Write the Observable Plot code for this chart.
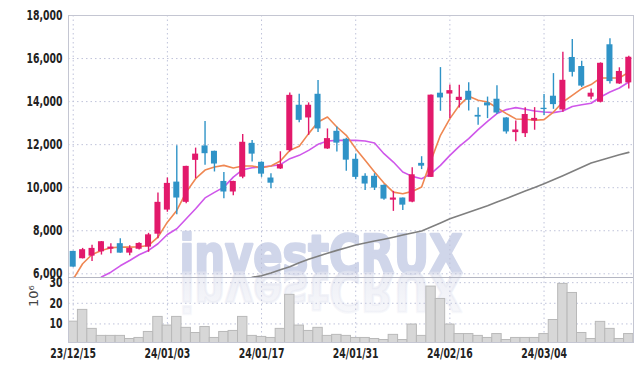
<!DOCTYPE html>
<html><head><meta charset="utf-8">
<script src="https://cdn.jsdelivr.net/npm/d3@7"></script>
<script src="https://cdn.jsdelivr.net/npm/@observablehq/plot@0.6"></script>
<style>
body{margin:0;background:#fff;}
#chart{position:relative;width:642px;height:371px;overflow:hidden;background:#fff;}
#chart svg{position:absolute;left:0;overflow:visible;}
</style></head><body><div id="chart"></div>
<script>
const dates = ["23/12/15","23/12/18","23/12/19","23/12/20","23/12/21","23/12/22","23/12/26","23/12/27","23/12/28","24/01/02",
"24/01/03","24/01/04","24/01/05","24/01/08","24/01/09","24/01/10","24/01/11","24/01/12","24/01/15","24/01/16",
"24/01/17","24/01/18","24/01/19","24/01/22","24/01/23","24/01/24","24/01/25","24/01/26","24/01/29","24/01/30",
"24/01/31","24/02/01","24/02/02","24/02/05","24/02/06","24/02/07","24/02/08","24/02/13","24/02/14","24/02/15",
"24/02/16","24/02/19","24/02/20","24/02/21","24/02/22","24/02/23","24/02/26","24/02/27","24/02/28","24/02/29",
"24/03/04","24/03/05","24/03/06","24/03/07","24/03/08","24/03/11","24/03/12","24/03/13","24/03/14","24/03/15"];
const open  = [7040,6700,6820,7020,7140,7400,6960,7140,7240,7840, 8960,10260,9320,11270,11940,11690,10290,9800,10490,12060,
  11180,10450,10870,11720,13830,13240,14340,11800,12620,12250, 11320,10530,10530,10110,9420,9520,9330,11130,10480,14390,
  14350,14050,14480,13360,13940,14110,13240,12560,12510,13100, 13690,14250,13610,16050,15630,14210,13970,16640,14820,14870];
const high  = [7050,7180,7330,7500,7400,7630,7300,7440,7880,9750, 10450,11950,11000,11840,13080,11700,10710,10300,12470,12190,
  11200,10650,11670,14400,14340,13940,14980,12730,12820,12300, 11560,10650,10650,10120,9830,9520,10930,11440,14310,15580,
  14770,14760,14870,13720,14210,14740,13250,13100,13720,13720, 14330,15300,16290,16880,15880,14590,15800,16920,15570,16110];
const low   = [6300,6690,6570,6870,6930,6950,6840,7100,7000,7630, 8860,8740,9250,10420,11040,10730,9490,9630,10420,11190,
  10480,9950,10850,11660,13020,12430,12570,11780,11660,10760, 10370,9870,9870,9420,8900,8940,9300,10840,10470,13550,
  13210,13700,13560,12900,13210,13400,12490,12140,12330,12670, 13360,13640,13500,15140,14650,14090,13940,14820,14800,14590];
const close = [6310,7120,7180,7490,7240,6960,7180,7410,7810,9320, 10200,9520,10990,11560,11580,11100,9800,10290,12110,11560,
  10630,10210,11070,14290,13130,13830,12730,12280,12070,11280, 10480,10170,9980,9470,9520,9190,10600,11000,14300,14170,
  14510,14200,14060,13280,13800,13470,12590,12680,13400,13220, 13630,13860,14990,15360,14720,14390,15780,14930,15400,16060];
const volume = [11.1,16.8,7.6,4.2,4.2,4.2,2.7,3.2,6.1,13.4, 9.2,13.4,8.1,5.6,8.5,3.2,6.1,6.6,13.4,4.2,
  3.7,3.2,7.6,24.1,9.2,6.6,8.1,4.2,4.7,4.2, 3.2,3.2,2.7,2.2,4.7,2.2,9.7,4.2,28.1,22.1,
  9.7,5.1,5.1,4.2,3.2,5.1,2.2,3.2,3.2,3.2, 5.1,11.9,29.4,25.0,5.6,2.7,11.0,7.6,2.7,5.1];
const ma5 = [5750,6465,6898,7084,7210,7237,7237,7256,7316,7702, 8400,8944,9795,10419,10820,10958,11037,10912,11005,11005,
  10930,11005,11237,11735,11921,12512,13052,13284,12819,12433, 11814,11270,10726,10214,9795,9721,9828,10028,11270,12433,
  13209,13828,14246,14060,13981,13716,13442,13195,13181,13130, 13163,13516,13981,14293,14604,14790,15098,15098,15098,15372];
const ma20 = [null,null,null,5850,6074,6372,6618,6884,7084,7395, 7828,8093,8558,9023,9525,9781,10028,10493,10837,10930,
  10958,11005,11070,11349,11502,11735,12014,12167,12200,12200, 12200,12167,12074,11581,11191,10726,10526,10419,10651,11037,
  11502,11921,12279,12698,13084,13442,13628,13720,13642,13563, 13516,13487,13563,13772,13851,13925,14214,14446,14632,14912];
const ma60 = [null,null,null,null,null,null,null,null,null,null, null,null,null,null,null,null,null,null,null,5840,
  5907,6042,6191,6330,6512,6679,6819,6958,7088,7214, 7340,7428,7521,7605,7698,7800,7898,7991,8172,8363,
  8554,8707,8860,9014,9163,9330,9498,9670,9842,10014, 10186,10368,10558,10754,10949,11149,11279,11400,11526,11642];
const xTicks = ["23/12/15","24/01/03","24/01/17","24/01/31","24/02/16","24/03/04"];
const priceTicks = [6000,8000,10000,12000,14000,16000,18000];
const volumeTicks = [10,20,30];
const volumeUnit = "10⁶";
const watermark = "investCRUX";

const UP = "#e2196b", DOWN = "#2f93c7";
const FONT = '"DejaVu Sans Condensed","DejaVu Sans",sans-serif';
const GRID = "#bfc3da";

const rows = dates.map((d, i) => ({date: d, open: open[i], high: high[i], low: low[i], close: close[i],
  volume: volume[i], ma5: ma5[i], ma20: ma20[i], ma60: ma60[i],
  color: close[i] >= open[i] ? UP : DOWN}));

const xScale = {type: "band", domain: dates, padding: 0, round: false, axis: null};

const topPlot = Plot.plot({
  width: 642, height: 278,
  marginTop: 15, marginBottom: 1, marginLeft: 68, marginRight: 9,
  style: {fontFamily: FONT, fontSize: "14px", color: "#222", background: "transparent", overflow: "visible"},
  x: xScale,
  y: {domain: [5828, 18000], axis: null},
  color: {type: "identity"},
  marks: [
    Plot.gridX(xTicks, {stroke: GRID, strokeOpacity: 1, strokeDasharray: "1.5,3"}),
    Plot.gridY(priceTicks, {stroke: GRID, strokeOpacity: 1, strokeDasharray: "1.5,3"}),
    Plot.frame({stroke: "#c4c6d2"}),
    Plot.line(rows, {x: "date", y: "ma60", stroke: "#7f7f7f", strokeWidth: 1.6, clip: true}),
    Plot.line(rows, {x: "date", y: "ma20", stroke: "#cf57ea", strokeWidth: 1.6, clip: true}),
    Plot.line(rows, {x: "date", y: "ma5", stroke: "#ef8752", strokeWidth: 1.6, clip: true}),
    Plot.ruleX(rows, {x: "date", y1: "low", y2: "high", stroke: "color", strokeWidth: 1.4, clip: true}),
    Plot.barY(rows, {x: "date", y1: "open", y2: "close", fill: "color", insetLeft: 1.7, insetRight: 1.7, clip: true}),
    Plot.axisY({ticks: priceTicks, tickSize: 0, tickPadding: 6, tickFormat: d3.format(","), fontWeight: "bold", label: null})
  ]
});

const bottomPlot = Plot.plot({
  width: 642, height: 94,
  marginTop: 0, marginBottom: 29, marginLeft: 68, marginRight: 9,
  style: {fontFamily: FONT, fontSize: "14px", color: "#222", background: "transparent", overflow: "visible"},
  x: xScale,
  y: {domain: [1, 32.5], axis: null},
  marks: [
    Plot.gridX(xTicks, {stroke: GRID, strokeOpacity: 1, strokeDasharray: "1.5,3"}),
    Plot.gridY(volumeTicks, {stroke: GRID, strokeOpacity: 1, strokeDasharray: "1.5,3"}),
    Plot.barY(rows, {x: "date", y: "volume", fill: "#d7d7d7", stroke: "#b9b9b9", strokeWidth: 1, clip: true}),
    Plot.frame({stroke: "#c4c6d2"}),
    Plot.ruleY([32.5], {stroke: "#b4b6c2", strokeWidth: 1.2}),
    Plot.axisX({ticks: xTicks, tickSize: 0, tickPadding: 6, fontWeight: "bold", label: null}),
    Plot.axisY({ticks: volumeTicks, tickSize: 0, tickPadding: 6, fontWeight: "bold", label: null}),
    Plot.text([volumeUnit], {frameAnchor: "left", dx: -35, dy: -3, rotate: -90, fontSize: 13, fill: "#444", fontWeight: "normal", fontFamily: "DejaVu Sans"})
  ]
});

const chart = document.getElementById("chart");
topPlot.style.top = "0px";
bottomPlot.style.top = "277px";
chart.appendChild(topPlot);
chart.appendChild(bottomPlot);

// narrow the tick labels to match the condensed face of the reference
for (const svgEl of [topPlot, bottomPlot]) {
  d3.select(svgEl).selectAll('g[aria-label$="tick label"] text').each(function () {
    const w = this.getComputedTextLength();
    this.setAttribute("textLength", (w * 0.74).toFixed(1));
    this.setAttribute("lengthAdjust", "spacingAndGlyphs");
  });
}

// watermark with reflection (behind data marks)
const svg = d3.select(topPlot);
const defs = svg.insert("defs", ":first-child");
const grad = defs.append("linearGradient").attr("id", "wmfade").attr("x1", 0).attr("y1", 0).attr("x2", 0).attr("y2", 1);
grad.append("stop").attr("offset", "0%").attr("stop-color", "#e3e5f0").attr("stop-opacity", 0.2);
grad.append("stop").attr("offset", "100%").attr("stop-color", "#e3e5f0").attr("stop-opacity", 0.75);
const wm = svg.insert("g", "defs + *").attr("font-family", "'DejaVu Sans', sans-serif").attr("font-weight", "bold").attr("font-size", 54)
  .attr("stroke-width", 2.6).attr("stroke-linejoin", "round");
const cx = 642 / 2, base = 272.7;
wm.append("text").attr("x", cx).attr("y", base).attr("text-anchor", "middle")
  .attr("textLength", 283).attr("lengthAdjust", "spacingAndGlyphs").attr("fill", "#d0d6ea").attr("stroke", "#d0d6ea").text(watermark);
wm.append("text").attr("x", cx).attr("y", base).attr("text-anchor", "middle")
  .attr("transform", `translate(0,${2 * base}) scale(1,-1)`)
  .attr("textLength", 283).attr("lengthAdjust", "spacingAndGlyphs").attr("fill", "url(#wmfade)").attr("stroke", "url(#wmfade)").text(watermark);
</script></body></html>
